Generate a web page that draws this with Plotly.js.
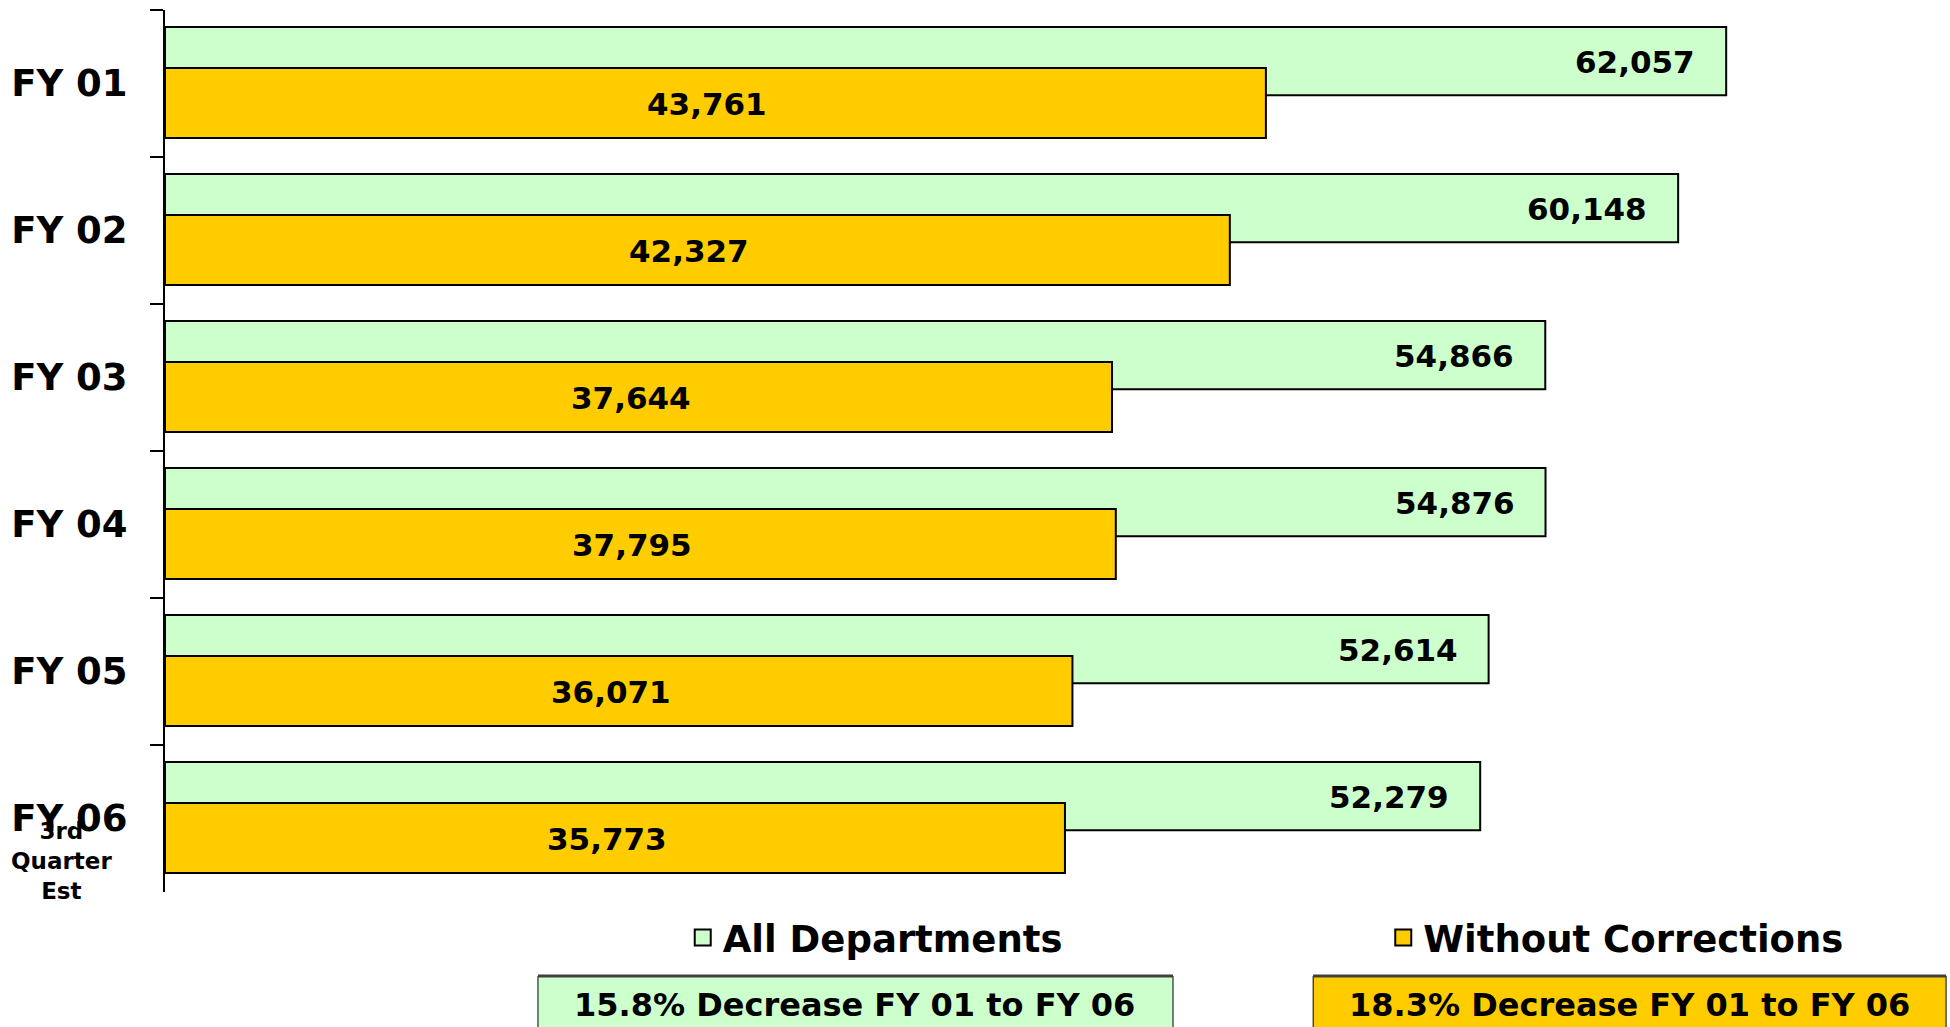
<!DOCTYPE html>
<html>
<head>
<meta charset="utf-8">
<script src="https://cdn.plot.ly/plotly-3.0.1.min.js"></script>
<style>html,body{margin:0;padding:0;background:#fff;}#chart{width:1950px;height:1027px;}</style>
</head>
<body>
<div id="chart"></div>
<script>
// ---- data ----
const categories = ['FY 01', 'FY 02', 'FY 03', 'FY 04', 'FY 05', 'FY 06'];
const allDepartments = [62057, 60148, 54866, 54876, 52614, 52279];
const withoutCorrections = [43761, 42327, 37644, 37795, 36071, 35773];
const seriesNames = ['All Departments', 'Without Corrections'];
const lastNote = ['3rd', 'Quarter', 'Est'];

// ---- styling ----
const FONT = 'DejaVu Sans, Verdana, sans-serif';
const GREEN = '#CCFFCC';
const ORANGE = '#FFCC00';
const fmt = v => v.toLocaleString('en-US');
const pct = arr => ((1 - arr[arr.length - 1] / arr[0]) * 100).toFixed(1);

const traces = [
  {
    type: 'bar', orientation: 'h', name: seriesNames[0],
    y: categories, x: allDepartments,
    width: 0.465, offset: -0.385,
    marker: {color: GREEN, line: {color: '#000', width: 2}},
    textposition: 'none', hoverinfo: 'x', showlegend: false
  },
  {
    type: 'bar', orientation: 'h', name: seriesNames[1],
    y: categories, x: withoutCorrections,
    width: 0.475, offset: -0.105,
    marker: {color: ORANGE, line: {color: '#000', width: 2}},
    textposition: 'none', hoverinfo: 'x', showlegend: false
  },
  {
    type: 'scatter', mode: 'markers', name: seriesNames[0], legend: 'legend',
    x: [null], y: [null],
    marker: {symbol: 'square', size: 16, color: GREEN, line: {color: '#000', width: 2}}
  },
  {
    type: 'scatter', mode: 'markers', name: seriesNames[1], legend: 'legend2',
    x: [null], y: [null],
    marker: {symbol: 'square', size: 16, color: ORANGE, line: {color: '#000', width: 2}}
  }
];

const labelFont = {family: FONT, size: 31, color: '#000', weight: 'bold'};

// value labels for "All Departments" (right end of green bar)
const annotations = categories.map((c, i) => ({
  x: allDepartments[i], y: c, xref: 'x', yref: 'y',
  text: fmt(allDepartments[i]), showarrow: false,
  xanchor: 'right', yanchor: 'middle', xshift: -29, yshift: 22,
  font: labelFont
}));
// value labels for "Without Corrections" (centred in orange bar)
categories.forEach((c, i) => annotations.push({
  x: withoutCorrections[i] / 2, y: c, xref: 'x', yref: 'y',
  text: fmt(withoutCorrections[i]), showarrow: false,
  xanchor: 'center', yanchor: 'middle', xshift: -8, yshift: -20,
  font: labelFont
}));

annotations.push({
  x: -0.059, y: 0.035, xref: 'paper', yref: 'paper',
  text: lastNote.join('<br>'), showarrow: false,
  xanchor: 'center', yanchor: 'middle', align: 'center',
  font: {family: FONT, size: 23, color: '#000', weight: 'bold'}
});
annotations.push({
  x: 0.3918, y: -0.128, xref: 'paper', yref: 'paper',
  text: pct(allDepartments) + '% Decrease ' + categories[0] + ' to ' + categories[categories.length - 1],
  showarrow: false, xanchor: 'center', yanchor: 'middle',
  font: {family: FONT, size: 32, color: '#000', weight: 'bold'}
});
annotations.push({
  x: 0.8315, y: -0.128, xref: 'paper', yref: 'paper',
  text: pct(withoutCorrections) + '% Decrease ' + categories[0] + ' to ' + categories[categories.length - 1],
  showarrow: false, xanchor: 'center', yanchor: 'middle',
  font: {family: FONT, size: 32, color: '#000', weight: 'bold'}
});

const shapes = [
  {type: 'rect', xref: 'paper', yref: 'paper', x0: 0.2118, x1: 0.5724, y0: -0.0952, y1: -0.2,
   fillcolor: GREEN, line: {color: '#000', width: 1}, layer: 'below'},
  {type: 'line', xref: 'paper', yref: 'paper', x0: 0.2118, x1: 0.5724, y0: -0.0952, y1: -0.0952,
   line: {color: '#404040', width: 3}},
  {type: 'rect', xref: 'paper', yref: 'paper', x0: 0.652, x1: 1.0114, y0: -0.0952, y1: -0.2,
   fillcolor: ORANGE, line: {color: '#000', width: 1}, layer: 'below'},
  {type: 'line', xref: 'paper', yref: 'paper', x0: 0.652, x1: 1.0114, y0: -0.0952, y1: -0.0952,
   line: {color: '#404040', width: 3}}
];

const legendBase = {
  orientation: 'h', xanchor: 'left', yanchor: 'middle', y: -0.052,
  bgcolor: 'rgba(0,0,0,0)', borderwidth: 0, itemwidth: 30,
  font: {family: FONT, size: 37, color: '#000', weight: 'bold'}
};

const layout = {
  width: 1950, height: 1027,
  margin: {l: 165, r: 24, t: 10, b: 135, pad: 0},
  paper_bgcolor: '#fff', plot_bgcolor: '#fff',
  barmode: 'overlay',
  font: {family: FONT, color: '#000'},
  xaxis: {range: [0, 70000], showgrid: false, zeroline: false, showline: false,
          showticklabels: false, ticks: '', fixedrange: true},
  yaxis: {type: 'category', range: [5.5, -0.5], tickson: 'boundaries',
          showline: true, linecolor: '#000', linewidth: 2,
          ticks: 'outside', ticklen: 13, tickwidth: 2, tickcolor: '#000',
          showgrid: false, zeroline: false, ticklabelstandoff: 28,
          tickfont: {family: FONT, size: 37, color: '#000', weight: 'bold'}},
  legend: Object.assign({}, legendBase, {x: 0.294}),
  legend2: Object.assign({}, legendBase, {x: 0.6918}),
  annotations: annotations,
  shapes: shapes
};

Plotly.newPlot('chart', traces, layout, {displayModeBar: false, staticPlot: true});
</script>
</body>
</html>
